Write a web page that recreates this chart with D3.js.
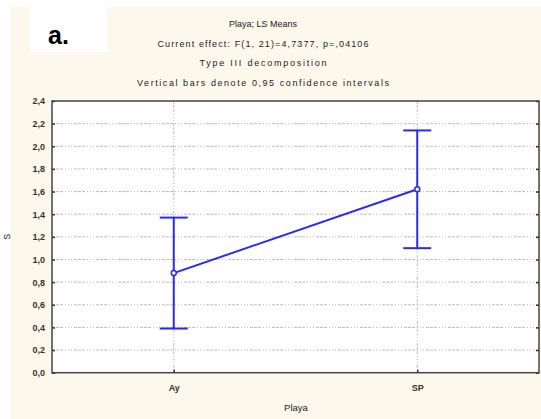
<!DOCTYPE html>
<html><head><meta charset="utf-8">
<script src="https://cdn.jsdelivr.net/npm/d3@7"></script>
<style>body{margin:0;background:#fff}svg{display:block}text{font-family:"Liberation Sans",Arial,sans-serif}</style>
</head><body><svg id="c" width="541" height="419"></svg>
<script>
const categories = ["Ay", "SP"];
const means = [0.88, 1.62];
const lower = [0.39, 1.10];
const upper = [1.37, 2.14];
const yTicks = [0,0.2,0.4,0.6,0.8,1.0,1.2,1.4,1.6,1.8,2.0,2.2,2.4];
const titleLines = ["Playa; LS Means","Current effect: F(1, 21)=4,7377, p=,04106","Type III decomposition","Vertical bars denote 0,95 confidence intervals"];

const svg = d3.select("#c");
svg.append("rect").attr("x",10).attr("y",7).attr("width",531).attr("height",412).attr("fill","#fdf8ec");
svg.append("rect").attr("x",30).attr("y",7).attr("width",77).attr("height",45).attr("fill","#fff");
svg.append("text").attr("x",48).attr("y",44).attr("font-size",25).attr("font-weight","bold").attr("fill","#000").text("a.");

const L=52, R=539, T=101, B=372.7;
const x = d3.scalePoint().domain(categories).range([L,R]).padding(0.5);
const y = d3.scaleLinear().domain([0,2.4]).range([B,T]);

svg.append("rect").attr("x",L).attr("y",T).attr("width",R-L).attr("height",B-T).attr("fill","#fff");

const dash = "3,1,3,1,3,2,1,2,1,2,1,2";
const g = svg.append("g");
g.selectAll("line.h").data(yTicks.slice(1,-1)).join("line")
  .attr("x1",L).attr("x2",R).attr("y1",d=>y(d)).attr("y2",d=>y(d))
  .attr("stroke","#bcbcbc").attr("stroke-dasharray",dash);
g.selectAll("line.v").data(categories).join("line")
  .attr("x1",d=>x(d)).attr("x2",d=>x(d)).attr("y1",T).attr("y2",B)
  .attr("stroke","#bcbcbc").attr("stroke-dasharray",dash);

// axes
const ya = svg.append("g").attr("transform",`translate(${L},0)`)
  .call(d3.axisLeft(y).tickValues(yTicks).tickSize(-3).tickPadding(7).tickFormat(d=>d3.format(".1f")(d).replace(".",",")));
const yr = svg.append("g").attr("transform",`translate(${R},0)`)
  .call(d3.axisRight(y).tickValues(yTicks).tickSize(-3).tickFormat(""));
const xa = svg.append("g").attr("transform",`translate(0,${B})`)
  .call(d3.axisBottom(x).tickSize(-3).tickPadding(12));
[ya,yr,xa].forEach(a=>{a.select(".domain").remove();a.selectAll("line").attr("stroke","#333").attr("stroke-width",1.5);
  a.selectAll("text").attr("font-size",9).attr("fill","#333").attr("font-family","Liberation Sans, Arial, sans-serif").attr("font-weight","bold");});

svg.append("rect").attr("x",L).attr("y",T).attr("width",R-L).attr("height",B-T).attr("fill","none").attr("stroke","#444").attr("stroke-width",1.5);

// error bars
const blue="#2a2af0";
const eb = svg.append("g");
categories.forEach((c,i)=>{
  eb.append("line").attr("x1",x(c)).attr("x2",x(c)).attr("y1",y(lower[i])).attr("y2",y(upper[i])).attr("stroke",blue).attr("stroke-width",2);
  [lower[i],upper[i]].forEach(v=>eb.append("line").attr("x1",x(c)-14).attr("x2",x(c)+14).attr("y1",y(v)).attr("y2",y(v)).attr("stroke",blue).attr("stroke-width",2));
});
svg.append("path").datum(categories.map((c,i)=>[x(c),y(means[i])]))
  .attr("d",d3.line()).attr("fill","none").attr("stroke",blue).attr("stroke-width",2);
svg.selectAll("circle.m").data(categories).join("circle")
  .attr("cx",d=>x(d)).attr("cy",(d,i)=>y(means[i])).attr("r",2.5).attr("fill","#fff").attr("stroke",blue).attr("stroke-width",1.5);

// titles
const ty=[27,47,66,86];
const tw=[null,211,127,252];
titleLines.forEach((t,i)=>{const el=svg.append("text").attr("x",263).attr("y",ty[i]).attr("text-anchor","middle")
  .attr("font-size",9).attr("fill","#222").text(t);
  if(tw[i]) el.attr("textLength",tw[i]).attr("lengthAdjust","spacing");});
svg.append("text").attr("x",296).attr("y",411).attr("text-anchor","middle").attr("font-size",9.5).attr("fill","#222").text("Playa");
svg.append("text").attr("transform",`translate(10,${(T+B)/2}) rotate(-90)`).attr("text-anchor","middle").attr("font-size",9).attr("fill","#222").text("S");
</script></body></html>
